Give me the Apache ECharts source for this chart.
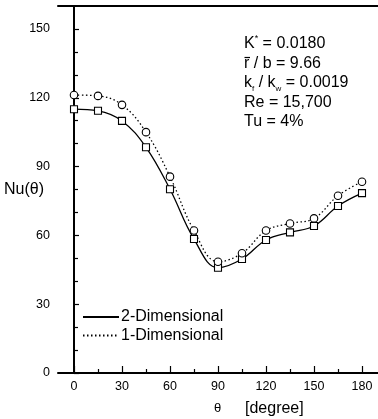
<!DOCTYPE html>
<html><head><meta charset="utf-8">
<script src="https://cdn.jsdelivr.net/npm/echarts@6/dist/echarts.min.js"></script>
<style>html,body{margin:0;padding:0;background:#fff}#c{width:378px;height:419px}</style>
</head><body><div id="c"></div>
<script>
var theta = [0, 15, 30, 45, 60, 75, 90, 105, 120, 135, 150, 165, 180];
var nu2D = [115.0, 114.3, 109.9, 98.4, 80.1, 58.4, 45.9, 49.7, 58.0, 61.3, 64.1, 72.8, 78.4];
var nu1D = [121.2, 120.8, 116.9, 105.0, 85.6, 62.1, 48.5, 52.2, 62.1, 65.2, 67.4, 77.3, 83.4];
var xTicks = [0, 30, 60, 90, 120, 150, 180];
var xMinor = [15, 45, 75, 105, 135, 165];
var yTicks = [0, 30, 60, 90, 120, 150];
var yMinor = [10, 20, 40, 50, 70, 80, 100, 110, 130, 140];
var seriesNames = ['2-Dimensional', '1-Dimensional'];

var FONT = '"Liberation Sans", Arial, sans-serif';
function pairs(ys){ return theta.map(function(t,i){ return [t, ys[i]]; }); }
var chart = echarts.init(document.getElementById('c'), null, {renderer:'canvas'});
var lineCol = '#000';
chart.setOption({
  animation:false,
  backgroundColor:'#fff',
  grid:{left:58, right:0, top:6, bottom:46},
  legend:{
    data: seriesNames, orient:'vertical', left:82, top:309,
    itemWidth:36, itemHeight:14, itemGap:2.5, padding:0,
    itemStyle:{opacity:0},
    textStyle:{fontFamily:FONT, fontSize:16, color:'#000', padding:[0,0,0,-3]}
  },
  xAxis:[
    {type:'value', min:-10, max:190, position:'bottom',
     axisLine:{lineStyle:{color:lineCol, width:2}},
     axisTick:{inside:true, length:7, customValues:xTicks, lineStyle:{color:lineCol, width:1.2}},
     axisLabel:{customValues:xTicks, margin:7, fontFamily:FONT, fontSize:12.5, color:'#000'},
     splitLine:{show:false}},
    {type:'value', min:-10, max:190, position:'bottom',
     axisLine:{show:false},
     axisTick:{inside:true, length:4, customValues:xMinor, lineStyle:{color:lineCol, width:1.2}},
     axisLabel:{show:false}, splitLine:{show:false}},
    {type:'value', min:-10, max:190, position:'top',
     axisLine:{lineStyle:{color:lineCol, width:2}},
     axisTick:{show:false}, axisLabel:{show:false}, splitLine:{show:false}}
  ],
  yAxis:[
    {type:'value', min:0, max:160, position:'left',
     axisLine:{show:true, lineStyle:{color:lineCol, width:2}},
     axisTick:{show:true, inside:true, length:5, customValues:yTicks, lineStyle:{color:lineCol, width:1.2}},
     axisLabel:{customValues:yTicks, margin:8, fontFamily:FONT, fontSize:12.5, color:'#000'},
     splitLine:{show:false}},
    {type:'value', min:0, max:160, position:'left',
     axisLine:{show:false},
     axisTick:{show:true, inside:true, length:4, customValues:yMinor, lineStyle:{color:lineCol, width:1.2}},
     axisLabel:{show:false}, splitLine:{show:false}}
  ],
  series:[
    {name:seriesNames[0], type:'line', smooth:0.4, symbol:'none', data:pairs(nu2D),
     lineStyle:{color:'#000', width:1.3}, itemStyle:{color:'#000'}, z:2},
    {name:seriesNames[1], type:'line', smooth:0.4, symbol:'none', data:pairs(nu1D),
     lineStyle:{color:'#000', width:1.3, type:[1.5,2.5]}, itemStyle:{color:'#000'}, z:2},
    {type:'scatter', symbol:'rect', symbolSize:7, data:pairs(nu2D),
     itemStyle:{color:'#fff', borderColor:'#000', borderWidth:1.1, opacity:1}, z:3},
    {type:'scatter', symbol:'circle', symbolSize:7.5, data:pairs(nu1D),
     itemStyle:{color:'#fff', borderColor:'#000', borderWidth:1.1, opacity:1}, z:3}
  ],
  graphic:[
    {type:'text', left:4, top:182, style:{text:'Nu(θ)', font:'16px '+FONT, fill:'#000'}},
    {type:'text', left:214, top:402, style:{text:'θ', font:'13px '+FONT, fill:'#000'}},
    {type:'text', left:245, top:401, style:{text:'[degree]', font:'16px '+FONT, fill:'#000'}},
    {type:'text', left:244, top:34, style:{
      text:'{m|K}{s|*}{m| = 0.0180}\n{m|r / b = 9.66}\n{m|k}{b|f}{m| / k}{b|w}{m| = 0.0019}\n{m|Re = 15,700}\n{m|Tu = 4%}',
      fill:'#000',
      rich:{
        m:{fontFamily:FONT, fontSize:16, lineHeight:19.5, fill:'#000'},
        s:{fontFamily:FONT, fontSize:9, verticalAlign:'top', fill:'#000'},
        b:{fontFamily:FONT, fontSize:8, verticalAlign:'bottom', fill:'#000'}
      }}},
    {type:'line', shape:{x1:244.5, y1:57.5, x2:250, y2:57.5}, style:{stroke:'#000', lineWidth:1.2}}
  ]
});
</script></body></html>
